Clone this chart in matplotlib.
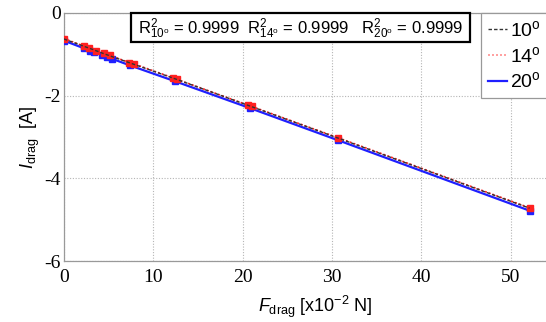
import matplotlib
matplotlib.use("Agg")
import matplotlib.pyplot as plt
from matplotlib.patches import Rectangle

plt.rcParams['mathtext.fontset'] = 'custom'
plt.rcParams['mathtext.rm'] = 'Liberation Sans'
plt.rcParams['mathtext.it'] = 'Liberation Sans:italic'
plt.rcParams['mathtext.bf'] = 'Liberation Sans:bold'

# Drag force [x10^-2 N] and drag current [A] for three angles
F10 = [0.0, 2.4, 3.3, 4.4, 5.3, 7.4, 12.4, 20.8, 30.6, 52.1]
I10 = [-0.63, -0.82, -0.89, -0.98, -1.05, -1.21, -1.59, -2.25, -3.02, -4.72]

F14 = [0.0, 2.2, 2.8, 3.6, 4.5, 5.2, 7.3, 7.8, 12.2, 12.7, 20.6, 21.0, 30.7, 52.2]
I14 = [-0.62, -0.80, -0.85, -0.91, -0.98, -1.03, -1.20, -1.23, -1.57, -1.61, -2.23, -2.26, -3.02, -4.72]

F20 = [0.0, 2.3, 2.9, 3.4, 4.3, 4.8, 5.4, 7.4, 12.4, 20.8, 30.7, 52.1]
I20 = [-0.67, -0.86, -0.91, -0.95, -1.02, -1.06, -1.11, -1.27, -1.65, -2.30, -3.08, -4.78]

R2 = {"10": 0.9999, "14": 0.9999, "20": 0.9999}

xticks = [0, 10, 20, 30, 40, 50]
yticks = [0, -2, -4, -6]

fig = plt.figure(figsize=(5.46, 3.22), dpi=100)
ax = fig.add_axes([0.117, 0.189, 0.92, 0.771])

ax.plot(F20, I20, color='#1f1fff', lw=1.6, ls='-', marker='s', ms=4.0,
        mec='#1f1fff', mfc='#1f1fff', label='20$^\\mathrm{o}$', zorder=3)
ax.plot(F14, I14, color='#ff2020', lw=1.2, ls=(0, (1.2, 1.2)), marker='s', ms=3.8,
        mec='#ff2020', mfc='#ff2020', label='14$^\\mathrm{o}$', zorder=4)
ax.plot(F10, I10, color='#333333', lw=1.0, ls=(0, (2.5, 1.5)),
        label='10$^\\mathrm{o}$', zorder=5)

ax.set_xlim(0, 56.2)
ax.set_ylim(-6, 0)
ax.set_xticks(xticks)
ax.set_yticks(yticks)
ax.set_xticklabels([str(t) for t in xticks], family='Liberation Serif', fontsize=14)
ax.set_yticklabels([str(t) for t in yticks], family='Liberation Serif', fontsize=14)
ax.tick_params(direction='in', length=0, pad=2)
ax.tick_params(axis='x', pad=6)

ax.grid(True, color='#b5b5b5', ls=(0, (1, 1.5)), lw=0.8)
for s in ax.spines.values():
    s.set_color('#999999')
    s.set_linewidth(0.9)

ax.set_xlabel(r'$\mathit{F}_\mathrm{drag}$ [x10$^\mathrm{-2}$ N]', fontsize=13,
              family='Liberation Sans', labelpad=5)
ax.set_ylabel(r'$\mathit{I}_\mathrm{drag}$  [A]', fontsize=13,
              family='Liberation Sans', labelpad=2)

# R^2 annotation box
ax.add_patch(Rectangle((0.133, 0.881), 0.676, 0.119, transform=ax.transAxes,
                       fill=True, facecolor='white', edgecolor='black', lw=1.6,
                       zorder=6, clip_on=False))
txt = (r'R$^2_{10^\mathrm{o}}$ = %.4f  R$^2_{14^\mathrm{o}}$ = %.4f   R$^2_{20^\mathrm{o}}$ = %.4f'
       % (R2["10"], R2["14"], R2["20"]))
ax.text(0.471, 0.937, txt, transform=ax.transAxes, ha='center', va='center',
        fontsize=12, family='Liberation Sans', zorder=7)

h, l = ax.get_legend_handles_labels()
order = [2, 1, 0]
leg = ax.legend([h[i] for i in order], [l[i] for i in order],
                loc='upper left', bbox_to_anchor=(0.83, 1.0, 0.25, 0.0),
                mode='expand',
                prop={'family': 'Liberation Sans', 'size': 14},
                handlelength=1.0, handletextpad=0.15, labelspacing=0.3,
                borderpad=0.35, fancybox=False, framealpha=1,
                edgecolor='#999999', borderaxespad=0)
for lh in leg.get_lines():
    lh.set_marker('')
leg.get_lines()[1].set_color('#ff9090')
leg.get_frame().set_linewidth(0.9)

fig.savefig('out.png', dpi=100)
